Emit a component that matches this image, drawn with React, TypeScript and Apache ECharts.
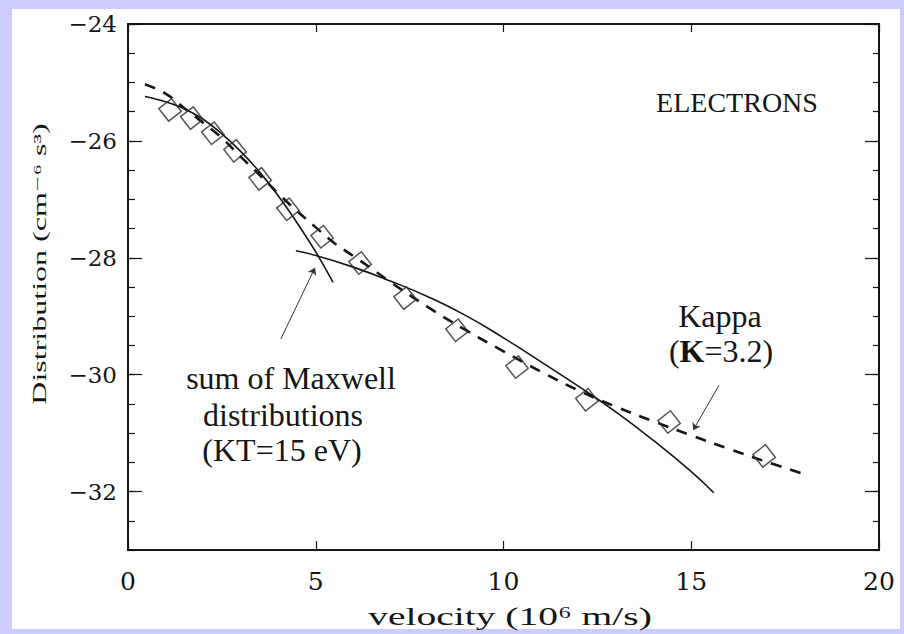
import React, { useEffect, useRef } from "react";
import * as echarts from "echarts";

// Measured electron distribution (log10 of f, cm^-6 s^3) against velocity (10^6 m/s)
const pointVelocity = [1.12, 1.7, 2.26, 2.85, 3.52, 4.26, 5.17, 6.18, 7.38, 8.76, 10.36, 12.22, 14.41, 16.94];
const pointLogF = [-25.47, -25.61, -25.87, -26.17, -26.65, -27.17, -27.64, -28.09, -28.69, -29.24, -29.87, -30.43, -30.81, -31.39];

// Kappa fit (kappa = 3.2)
const kappaVelocity = [0.45, 1.0, 1.5, 2.0, 2.5, 3.0, 3.5, 4.0, 4.5, 5.0, 5.5, 6.0, 6.5, 7.0, 8.0, 9.0, 10.0, 11.0, 12.0, 13.0, 14.0, 15.0, 16.0, 17.0, 18.0];
const kappaLogF = [-25.03, -25.19, -25.44, -25.69, -25.95, -26.27, -26.58, -26.9, -27.2, -27.48, -27.75, -27.97, -28.19, -28.42, -28.85, -29.24, -29.6, -29.95, -30.27, -30.55, -30.8, -31.04, -31.27, -31.49, -31.7];

// Sum of Maxwellians (kT = 15 eV): core component
const coreVelocity = [0.45, 1.0, 1.5, 2.0, 2.5, 3.0, 3.5, 4.0, 4.5, 5.0, 5.46];
const coreLogF = [-25.24, -25.33, -25.45, -25.63, -25.88, -26.18, -26.53, -26.94, -27.4, -27.9, -28.42];

// Sum of Maxwellians: halo component
const haloVelocity = [4.47, 5.0, 6.0, 7.0, 8.0, 9.0, 10.0, 11.0, 12.0, 13.0, 14.0, 15.0, 15.6];
const haloLogF = [-27.88, -27.96, -28.16, -28.4, -28.67, -28.99, -29.37, -29.78, -30.2, -30.64, -31.13, -31.66, -32.02];

// Annotation arrows: [tail, head] in data units
const maxwellArrow = [[4.07, -29.39], [4.98, -28.17]];
const kappaArrow = [[15.74, -30.18], [15.05, -30.95]];

// Axis ticks
const xTicks = [0, 5, 10, 15, 20];
const yMajorTicks = [-32, -30, -28, -26, -24];
const yMinorTicks = [-33, -32.5, -32, -31.5, -31, -30.5, -30, -29.5, -29, -28.5, -28, -27.5, -27, -26.5, -26, -25.5, -25, -24.5, -24];

const pairs = (xs: number[], ys: number[]) => xs.map((x, i) => [x, ys[i]]);

const INK = "#151515";
const TITLE_FONT = "'Liberation Serif', 'DejaVu Serif', serif";
const TICK_FONT = "'DejaVu Serif', 'Liberation Serif', serif";

const minus = (v: number) => (v < 0 ? "\u2212" + Math.abs(v) : String(v));

export default function App() {
  const ref = useRef<HTMLDivElement>(null);

  useEffect(() => {
    if (!ref.current) return;
    const chart = echarts.init(ref.current, undefined, { renderer: "svg" });

    const frameLine = { show: true, onZero: false, lineStyle: { color: INK, width: 2 } };

    const yAxisBase = {
      type: "value" as const,
      min: -33,
      max: -24,
      scale: true,
      splitLine: { show: false },
      axisLine: frameLine,
    };

    chart.setOption({
      animation: false,
      backgroundColor: "#ccccff",
      grid: { left: 128, top: 24, width: 751, height: 526, containLabel: false, outerBoundsMode: "none" },
      graphic: [
        { type: "rect", z: -10, silent: true, shape: { x: 12, y: 9, width: 888, height: 620 }, style: { fill: "#ffffff" } },
        {
          type: "text", x: 40, y: 264, rotation: Math.PI / 2, scaleX: 1.78, scaleY: 1,
          style: { text: "Distribution (cm\u207B\u2076 s\u00B3)", font: `18px ${TITLE_FONT}`, fill: INK, align: "center", verticalAlign: "middle" },
        },
        {
          type: "text", x: 510, y: 616, scaleX: 1.52, scaleY: 1,
          style: { text: "velocity (10\u2076 m/s)", font: `26px ${TITLE_FONT}`, fill: INK, align: "center", verticalAlign: "middle" },
        },
        { type: "text", x: 737, y: 102, style: { text: "ELECTRONS", font: `28px ${TITLE_FONT}`, fill: INK, align: "center", verticalAlign: "middle" } },
        { type: "text", x: 720, y: 316, style: { text: "Kappa", font: `32px ${TITLE_FONT}`, fill: INK, align: "center", verticalAlign: "middle" } },
        {
          type: "text", x: 721, y: 351,
          style: {
            text: "({k|\u039A}=3.2)", font: `32px ${TITLE_FONT}`, fill: INK, align: "center", verticalAlign: "middle",
            rich: { k: { fontFamily: TITLE_FONT, fontSize: 32, fontWeight: "bold", fill: INK } },
          },
        },
        { type: "text", x: 291, y: 378, style: { text: "sum of Maxwell", font: `32px ${TITLE_FONT}`, fill: INK, align: "center", verticalAlign: "middle" } },
        { type: "text", x: 283, y: 415, style: { text: "distributions", font: `32px ${TITLE_FONT}`, fill: INK, align: "center", verticalAlign: "middle" } },
        { type: "text", x: 282, y: 450, style: { text: "(KT=15 eV)", font: `32px ${TITLE_FONT}`, fill: INK, align: "center", verticalAlign: "middle" } },
      ],
      xAxis: [
        {
          type: "value", position: "bottom", min: 0, max: 20, interval: 5,
          splitLine: { show: false },
          axisLine: frameLine,
          axisTick: { show: true, inside: true, length: 9, customValues: xTicks, lineStyle: { color: INK, width: 1.2 } },
          axisLabel: { show: true, customValues: xTicks, margin: 19, fontFamily: TICK_FONT, fontSize: 25, color: INK },
        },
        {
          type: "value", position: "top", min: 0, max: 20, interval: 5,
          splitLine: { show: false },
          axisLine: frameLine,
          axisTick: { show: true, inside: true, length: 8, customValues: xTicks, lineStyle: { color: INK, width: 1.2 } },
          axisLabel: { show: false },
        },
      ],
      yAxis: [
        {
          ...yAxisBase, position: "left",
          axisTick: { show: true, inside: true, length: 14, customValues: yMajorTicks, lineStyle: { color: INK, width: 1.2 } },
          axisLabel: { show: true, customValues: yMajorTicks, formatter: minus, margin: 11, fontFamily: TICK_FONT, fontSize: 23, color: INK },
        },
        {
          ...yAxisBase, position: "left",
          axisTick: { show: true, inside: true, length: 7, customValues: yMinorTicks, lineStyle: { color: INK, width: 1.2 } },
          axisLabel: { show: false },
        },
        {
          ...yAxisBase, position: "right",
          axisTick: { show: true, inside: true, length: 14, customValues: yMajorTicks, lineStyle: { color: INK, width: 1.2 } },
          axisLabel: { show: false },
        },
        {
          ...yAxisBase, position: "right",
          axisTick: { show: true, inside: true, length: 6, customValues: yMinorTicks, lineStyle: { color: INK, width: 1.2 } },
          axisLabel: { show: false },
        },
      ],
      series: [
        {
          name: "Kappa", type: "line", data: pairs(kappaVelocity, kappaLogF),
          showSymbol: false, symbol: "none", smooth: 0.4,
          lineStyle: { color: INK, width: 2.6, type: [11, 9] },
        },
        {
          name: "Maxwell core", type: "line", data: pairs(coreVelocity, coreLogF),
          showSymbol: false, symbol: "none", smooth: 0.4,
          lineStyle: { color: INK, width: 1.6 },
        },
        {
          name: "Maxwell halo", type: "line", data: pairs(haloVelocity, haloLogF),
          showSymbol: false, symbol: "none", smooth: 0.5,
          lineStyle: { color: INK, width: 1.6 },
        },
        {
          name: "Electrons", type: "scatter", data: pairs(pointVelocity, pointLogF),
          symbol: "rect", symbolSize: 16, symbolRotate: 38,
          itemStyle: { color: "rgba(0,0,0,0)", borderColor: "#2a2a2a", borderWidth: 1.5 },
          z: 3,
        },
        {
          name: "Arrows", type: "lines", coordinateSystem: "cartesian2d",
          symbol: ["none", "arrow"], symbolSize: 7,
          lineStyle: { color: "#333", width: 1, opacity: 1 },
          data: [{ coords: maxwellArrow }, { coords: kappaArrow }],
          z: 4,
        },
      ],
    });

    return () => chart.dispose();
  }, []);

  return <div ref={ref} style={{ position: "fixed", left: 0, top: 0, width: 904, height: 634 }} />;
}
